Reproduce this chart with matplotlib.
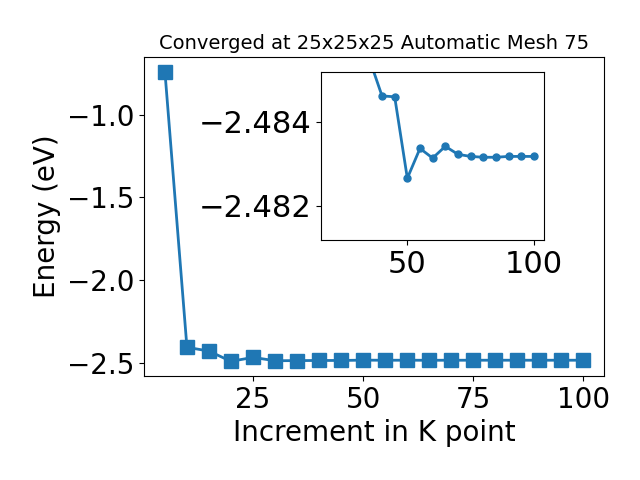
import numpy as np
import matplotlib
matplotlib.use("Agg")
import matplotlib.pyplot as plt

# k-point increments and total energies (eV)
kpoints = [5, 10, 15, 20, 25, 30, 35, 40, 45, 50,
           55, 60, 65, 70, 75, 80, 85, 90, 95, 100]
energy = [-0.741, -2.405, -2.428, -2.490, -2.466, -2.4862, -2.4855, -2.48462, -2.48460, -2.48266,
          -2.48337, -2.48314, -2.48342, -2.48323, -2.48318, -2.48316, -2.48316, -2.48318, -2.48318, -2.48318]

fig = plt.figure(figsize=(6.4, 4.8), dpi=100)
ax = fig.add_subplot(111)
ax.plot(kpoints, energy, marker='s', markersize=10, linewidth=2, color='#1f77b4')
ax.set_xlabel("Increment in K point", fontsize=20)
ax.set_ylabel("Energy (eV)", fontsize=20)
ax.set_title("Converged at 25x25x25 Automatic Mesh 75", fontsize=14)
ax.tick_params(labelsize=20)
fig.subplots_adjust(left=0.225, right=0.944, top=0.881, bottom=0.217)

# zoomed inset of the converged region
ins = fig.add_axes([0.502, 0.5, 0.348, 0.35])
ins.plot(kpoints[6:], energy[6:], marker='o', markersize=5, linewidth=2, color='#1f77b4')
ins.set_xlim(16, 104)
ins.set_ylim(-2.48119, -2.48519)
ins.set_yticks([-2.484, -2.482])
ins.tick_params(labelsize=22)

fig.savefig("out.png")
